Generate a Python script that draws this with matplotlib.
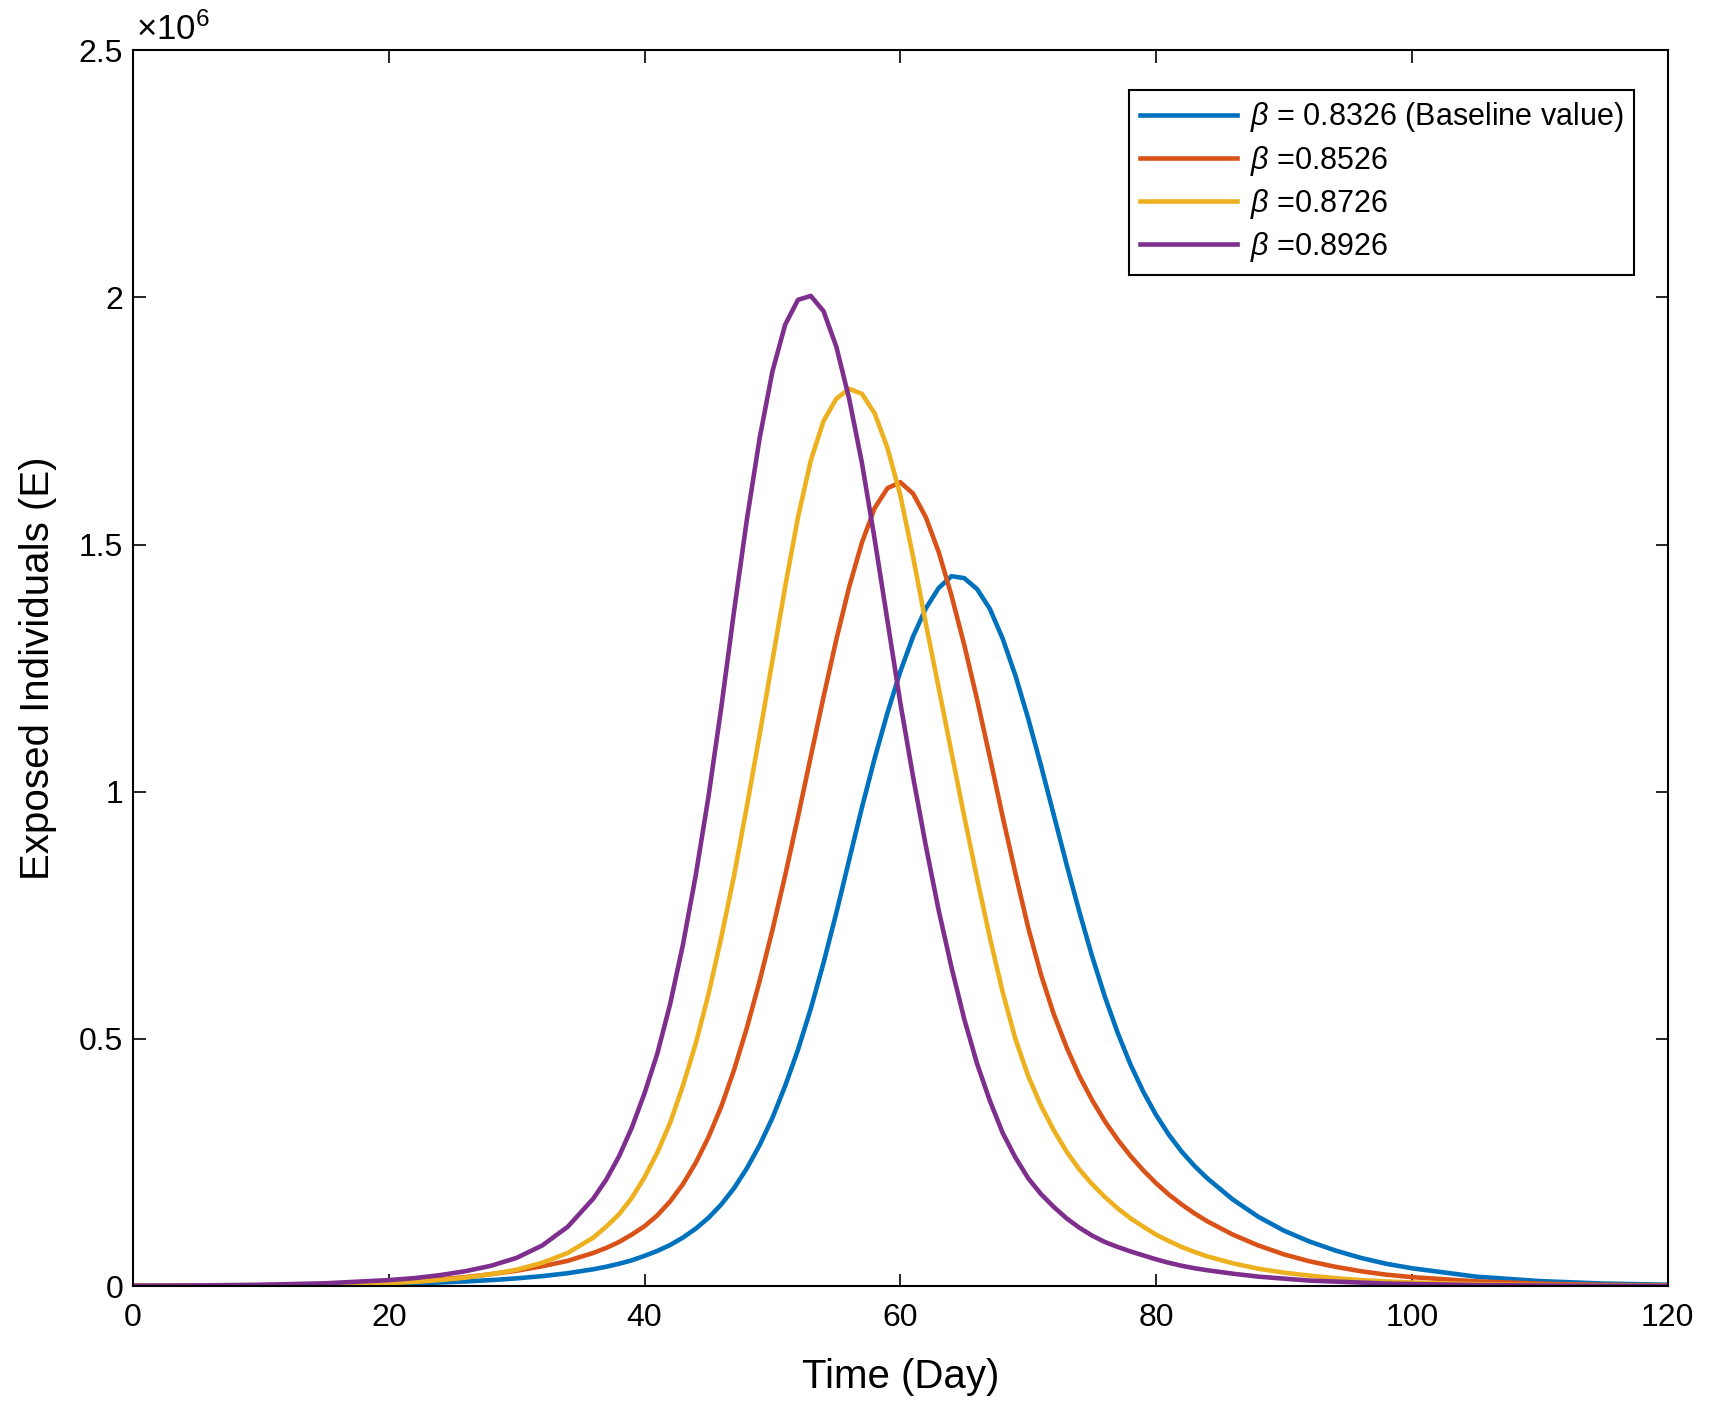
import matplotlib
matplotlib.use("Agg")
import matplotlib.pyplot as plt
from matplotlib.ticker import FuncFormatter

plt.rcParams['font.family'] = ['Liberation Sans', 'DejaVu Sans']
plt.rcParams['mathtext.fontset'] = 'custom'
plt.rcParams['mathtext.rm'] = 'Liberation Sans'
plt.rcParams['mathtext.it'] = 'Liberation Sans:italic'

# time grid (days): coarse on the flat tails, 1 day through the peaks
days = ([0, 5, 10, 15] + list(range(20, 36, 2)) + list(range(36, 85))
        + list(range(86, 101, 2)) + [105, 110, 115, 120])

# exposed individuals, in units of 10^6
e_08326 = [0.0002, 0.0005, 0.001, 0.002,
           0.0043, 0.0056, 0.0072, 0.0093, 0.012, 0.0155, 0.02, 0.026,
           0.034, 0.039, 0.045, 0.052, 0.061, 0.071, 0.083, 0.098, 0.116, 0.138,
           0.165, 0.198, 0.238, 0.285, 0.34, 0.405, 0.478, 0.561, 0.654, 0.755,
           0.862, 0.968, 1.068, 1.16, 1.243, 1.314, 1.371, 1.412, 1.436, 1.432,
           1.41, 1.37, 1.31, 1.235, 1.148, 1.053, 0.953, 0.853, 0.757, 0.667,
           0.585, 0.512, 0.448, 0.393, 0.346, 0.306, 0.272, 0.243, 0.218,
           0.175, 0.14, 0.112, 0.09, 0.072, 0.057, 0.045, 0.036,
           0.019, 0.01, 0.005, 0.0026]
e_08526 = [0.0003, 0.0007, 0.0016, 0.0035,
           0.0075, 0.01, 0.0135, 0.018, 0.024, 0.031, 0.04, 0.051,
           0.067, 0.077, 0.089, 0.104, 0.121, 0.143, 0.171, 0.206, 0.249, 0.301,
           0.363, 0.437, 0.522, 0.617, 0.72, 0.831, 0.949, 1.071, 1.192, 1.308,
           1.414, 1.504, 1.574, 1.614, 1.626, 1.603, 1.555, 1.485, 1.397, 1.297,
           1.187, 1.07, 0.95, 0.835, 0.725, 0.63, 0.55, 0.483, 0.425, 0.376,
           0.333, 0.296, 0.263, 0.234, 0.208, 0.185, 0.165, 0.147, 0.131,
           0.104, 0.082, 0.064, 0.05, 0.039, 0.03, 0.023, 0.018,
           0.0095, 0.0048, 0.0024, 0.0012]
e_08726 = [0.0004, 0.0008, 0.0016, 0.0032,
           0.006, 0.0085, 0.012, 0.017, 0.024, 0.033, 0.047, 0.067,
           0.098, 0.12, 0.145, 0.178, 0.22, 0.27, 0.33, 0.405, 0.49, 0.59,
           0.705, 0.83, 0.97, 1.115, 1.265, 1.415, 1.555, 1.67, 1.75, 1.795,
           1.815, 1.805, 1.765, 1.695, 1.60, 1.475, 1.34, 1.21, 1.08, 0.95,
           0.825, 0.705, 0.595, 0.50, 0.425, 0.365, 0.315, 0.272, 0.236, 0.206,
           0.18, 0.157, 0.137, 0.12, 0.104, 0.091, 0.079, 0.069, 0.06,
           0.046, 0.035, 0.027, 0.021, 0.016, 0.012, 0.0093, 0.0072,
           0.0037, 0.0019, 0.001, 0.0005]
e_08926 = [0.0006, 0.0012, 0.0026, 0.0055,
           0.012, 0.016, 0.022, 0.030, 0.041, 0.057, 0.082, 0.12,
           0.177, 0.215, 0.262, 0.32, 0.39, 0.47, 0.57, 0.69, 0.83, 0.99,
           1.17, 1.365, 1.55, 1.715, 1.85, 1.945, 1.995, 2.003, 1.972, 1.90,
           1.795, 1.665, 1.51, 1.345, 1.18, 1.03, 0.89, 0.76, 0.645, 0.54,
           0.45, 0.375, 0.31, 0.26, 0.218, 0.186, 0.16, 0.137, 0.118, 0.102,
           0.089, 0.079, 0.07, 0.062, 0.054, 0.047, 0.041, 0.036, 0.032,
           0.025, 0.019, 0.015, 0.011, 0.009, 0.007, 0.005, 0.004,
           0.002, 0.001, 0.0005, 0.0003]

series = [e_08326, e_08526, e_08726, e_08926]
labels = [r'$\beta$ = 0.8326 (Baseline value)', r'$\beta$ =0.8526',
          r'$\beta$ =0.8726', r'$\beta$ =0.8926']
colors = ['#0072BD', '#D95319', '#EDB120', '#7E2F8E']

fig = plt.figure(figsize=(17.09, 14.14), dpi=100)
ax = fig.add_axes([0.0778, 0.0905, 0.898, 0.874])

for vals, lab, col in zip(series, labels, colors):
    ax.plot(days, vals, color=col, linewidth=3.3, label=lab)

ax.set_xlim(0, 120)
ax.set_ylim(0, 2.5)
ax.set_xticks(range(0, 121, 20))
ax.set_yticks([0, 0.5, 1, 1.5, 2, 2.5])
ax.yaxis.set_major_formatter(FuncFormatter(lambda v, p: '%g' % v))
ax.tick_params(direction='in', top=True, right=True, length=9, width=1.2,
               labelsize=23)
ax.tick_params(axis='x', pad=12)
ax.tick_params(axis='y', pad=7)
for sp in ax.spines.values():
    sp.set_linewidth(1.5)

ax.text(0.002, 1.003, r'$\times10^{6}$', transform=ax.transAxes,
        ha='left', va='bottom', fontsize=25)

ax.set_xlabel('Time (Day)', fontsize=29, va='center')
ax.xaxis.set_label_coords(0.5, -0.0736)
ax.set_ylabel('Exposed Individuals (E)', fontsize=29, va='center')
ax.yaxis.set_label_coords(-0.062, 0.5)

leg = ax.legend(loc='upper right', bbox_to_anchor=(0.978, 0.968),
                borderaxespad=0, fontsize=22, fancybox=False,
                edgecolor='black', framealpha=1, handlelength=3.2,
                handletextpad=0.4, labelspacing=0.3, borderpad=0.35)
leg.get_frame().set_linewidth(1.5)

fig.savefig('out.png', dpi=100, facecolor='white')
